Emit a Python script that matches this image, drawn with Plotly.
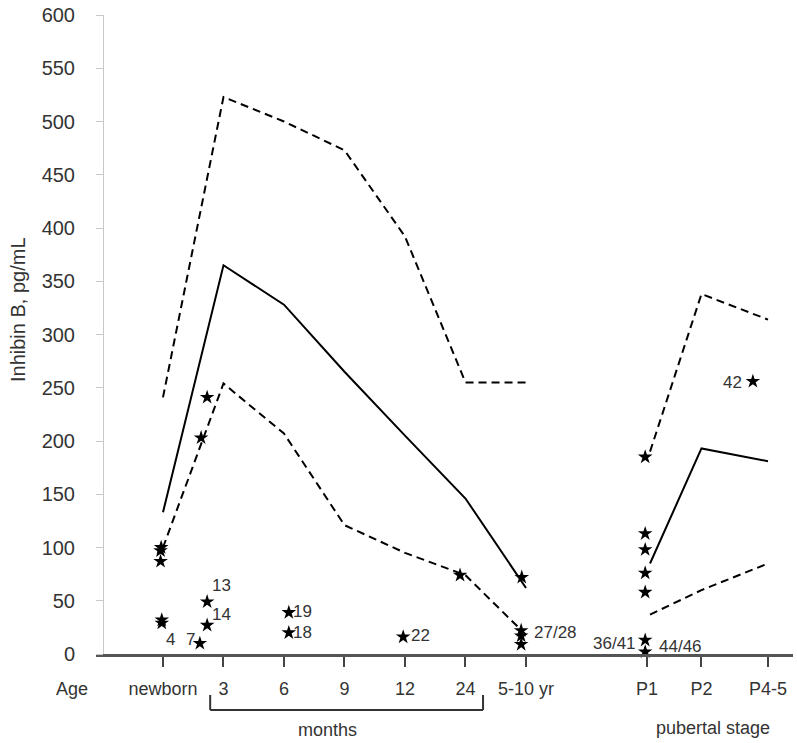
import plotly.graph_objects as go

# ---------------- data ----------------
cat_labels = ["newborn", "3", "6", "9", "12", "24", "5-10 yr", "P1", "P2", "P4-5"]
cat_pos = [0, 1, 2, 3, 4, 5, 6, 8, 8.9, 10]

early_x = [0, 1, 2, 3, 4, 5, 6]
early_median = [133, 365, 328, 265, 205, 146, 62]
early_upper = [241, 523, 500, 473, 392, 255, 255]
early_lower = [100, 254, 207, 121, 95, 74, 18]

pub_x = [8.05, 8.9, 10]
pub_median = [85, 193, 181]
pub_upper = [190, 338, 314]
pub_lower = [37, 60, 85]

star_x = [-0.03, -0.04, -0.04, -0.02, -0.02,
          0.73, 0.63, 0.73, 0.73, 0.61,
          2.08, 2.08,
          3.97,
          4.91,
          5.93, 5.92, 5.92, 5.92,
          7.97, 7.97, 7.97, 7.97, 7.97, 7.97, 7.97,
          9.75]
star_y = [100, 97, 87, 32, 29,
          241, 203, 49, 27, 10,
          39, 20,
          16,
          74,
          72, 22, 17, 9,
          185, 113, 98, 76, 58, 13, 2,
          256]

patient_text = ["4", "7", "13", "14", "19", "18", "22", "27/28", "36/41", "44/46", "42"]
patient_x = [0.13, 0.45, 0.975, 0.975, 2.31, 2.31, 4.26, 6.48, 7.47, 8.55, 9.42]
patient_y = [14, 14, 64, 37, 40, 20, 17, 20, 10, 7, 255]

FONT = "Liberation Sans, Arial, sans-serif"
TXT = "#333333"

PLOT_L, PLOT_R, PLOT_T, PLOT_B = 96, 793, 15, 654   # target screen pixels
W, H = 797, 743
PW, PH = PLOT_R - PLOT_L, PLOT_B - PLOT_T


def px(sx):
    return (sx - PLOT_L) / PW


def py(sy):
    return (PLOT_B - sy) / PH


fig = go.Figure()


def add_line(x, y, dash):
    fig.add_trace(go.Scatter(x=x, y=y, mode="lines",
                             line=dict(color="black", width=2, dash=dash),
                             hoverinfo="skip", showlegend=False))


add_line(early_x, early_upper, "8px,5px")
add_line(early_x, early_median, "solid")
add_line(early_x, early_lower, "8px,5px")
add_line(pub_x, pub_upper, "8px,5px")
add_line(pub_x, pub_median, "solid")
add_line(pub_x, pub_lower, "8px,5px")

fig.add_trace(go.Scatter(x=star_x, y=star_y, mode="markers",
                         marker=dict(symbol="star", size=11, color="black",
                                     line=dict(width=0)),
                         showlegend=False, cliponaxis=False))

for t, x, y in zip(patient_text, patient_x, patient_y):
    fig.add_annotation(x=x, y=y, text=t, showarrow=False, xref="x", yref="y",
                       xanchor="center", yanchor="middle",
                       font=dict(family=FONT, size=17, color=TXT))

# bracket for months
yb, yt = py(710), py(695)
fig.add_shape(type="line", xref="x", yref="paper", x0=0.78, x1=5.29,
              y0=yb, y1=yb, line=dict(color="#333", width=2))
fig.add_shape(type="line", xref="x", yref="paper", x0=0.78, x1=0.78,
              y0=yb, y1=yt, line=dict(color="#333", width=2))
fig.add_shape(type="line", xref="x", yref="paper", x0=5.29, x1=5.29,
              y0=yb, y1=yt, line=dict(color="#333", width=2))


def paper_text(text, sx, sy, size, angle=0):
    fig.add_annotation(x=px(sx), y=py(sy), xref="paper", yref="paper",
                       text=text, showarrow=False, textangle=angle,
                       xanchor="center", yanchor="middle",
                       font=dict(family=FONT, size=size, color=TXT))


paper_text("Age", 72, 689, 18)
paper_text("months", 327, 730, 18)
paper_text("pubertal stage", 713, 728, 18)
paper_text("Inhibin B, pg/mL", 18, 310, 20, angle=-90)

fig.update_layout(
    width=W, height=H,
    margin=dict(l=PLOT_L, r=W - PLOT_R, t=PLOT_T, b=H - PLOT_B, autoexpand=False),
    paper_bgcolor="white", plot_bgcolor="white",
    font=dict(family=FONT, color=TXT),
    xaxis=dict(range=[-1.107, 10.413], showgrid=False, zeroline=False,
               automargin=False, ticklabeloverflow="allow",
               showline=True, linecolor="#555555", linewidth=3,
               ticks="outside", ticklen=10, tickwidth=2, tickcolor="#444444",
               tickvals=cat_pos, ticktext=cat_labels,
               tickfont=dict(family=FONT, size=18, color=TXT),
               ticklabelstandoff=6),
    yaxis=dict(range=[0, 600], showgrid=False, zeroline=False,
               automargin=False, ticklabeloverflow="allow",
               anchor="free", position=px(103),
               showline=True, linecolor="#c8c8c8", linewidth=1,
               ticks="outside", ticklen=7, tickwidth=1, tickcolor="#c8c8c8",
               tickvals=list(range(0, 601, 50)),
               tickfont=dict(family=FONT, size=20, color=TXT),
               ticklabelstandoff=17),
)

fig.write_html("out.html",
               config={"displayModeBar": False},
               post_script="document.body.style.margin='0';document.body.style.padding='0';")
